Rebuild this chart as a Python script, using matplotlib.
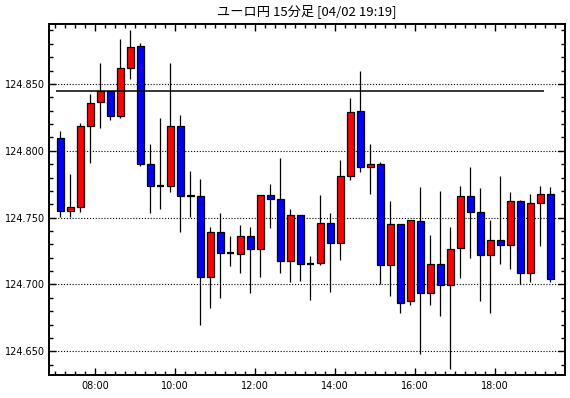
import matplotlib
matplotlib.use('Agg')
import matplotlib.pyplot as plt
import pandas as pd
from matplotlib.ticker import MultipleLocator, FixedLocator, FormatStrFormatter

# 15-minute candles, 07:00 .. 19:15
times = pd.date_range('2024-04-02 07:00', periods=50, freq='15min')

opens = [124.8095, 124.7548, 124.7578, 124.8185, 124.8365, 124.8445, 124.8260, 124.8620, 124.8785, 124.7900,
         124.7735, 124.7735, 124.8185, 124.7667, 124.7665, 124.7058, 124.7390, 124.7238, 124.7230, 124.7360,
         124.7268, 124.7668, 124.7638, 124.7173, 124.7518, 124.7150, 124.7158, 124.7458, 124.7308, 124.7810,
         124.8298, 124.7878, 124.7900, 124.7145, 124.7450, 124.6873, 124.7473, 124.6933, 124.7150, 124.6995,
         124.7270, 124.7660, 124.7540, 124.7218, 124.7330, 124.7293, 124.7623, 124.7083, 124.7608, 124.7675]
highs = [124.8150, 124.7828, 124.8208, 124.8428, 124.8658, 124.8445, 124.8833, 124.8900, 124.8803, 124.8053,
         124.8248, 124.8658, 124.8270, 124.7850, 124.7790, 124.7430, 124.7533, 124.7363, 124.7445, 124.7430,
         124.7668, 124.7753, 124.7945, 124.7565, 124.7518, 124.7213, 124.7670, 124.7533, 124.7933, 124.8395,
         124.8600, 124.8053, 124.7915, 124.7625, 124.7450, 124.7480, 124.7730, 124.7370, 124.7700, 124.7430,
         124.7738, 124.7880, 124.7723, 124.7483, 124.7813, 124.7693, 124.7630, 124.7678, 124.7738, 124.7730]
lows = [124.7503, 124.7503, 124.7545, 124.7908, 124.8168, 124.8228, 124.8243, 124.8538, 124.7883, 124.7538,
        124.7563, 124.7695, 124.7395, 124.7503, 124.6700, 124.6825, 124.6900, 124.7140, 124.7088, 124.6933,
        124.7058, 124.7425, 124.7088, 124.7020, 124.7028, 124.6885, 124.7145, 124.6940, 124.7185, 124.7780,
        124.7838, 124.7673, 124.7000, 124.6915, 124.6790, 124.6850, 124.6483, 124.6850, 124.6765, 124.6370,
        124.7050, 124.7200, 124.6878, 124.6790, 124.7155, 124.7118, 124.7000, 124.7020, 124.7290, 124.7020]
closes = [124.7548, 124.7578, 124.8185, 124.8358, 124.8445, 124.8260, 124.8620, 124.8778, 124.7900, 124.7733,
          124.7735, 124.8185, 124.7660, 124.7660, 124.7058, 124.7390, 124.7238, 124.7235, 124.7360, 124.7268,
          124.7668, 124.7638, 124.7173, 124.7518, 124.7150, 124.7150, 124.7458, 124.7308, 124.7810, 124.8290,
          124.7878, 124.7900, 124.7145, 124.7450, 124.6858, 124.7480, 124.6933, 124.7150, 124.6995, 124.7263,
          124.7660, 124.7540, 124.7218, 124.7330, 124.7293, 124.7623, 124.7083, 124.7608, 124.7675, 124.7038]

ref_level = 124.8448
title = 'ユーロ円 15分足 [04/02 19:19]'

step = 0.25  # hours per candle
x = times.hour + times.minute / 60 + step / 2

fig = plt.figure(figsize=(5.7, 3.98), dpi=100)
ax = fig.add_axes([49 / 570, 1 - 375 / 398, 516 / 570, 351 / 398])

ax.set_xlim(6.842, 19.742)
ax.set_ylim(124.6323, 124.8948)

# dotted grid
for lvl in [124.65, 124.70, 124.75, 124.80, 124.85]:
    ax.axhline(lvl, color='black', lw=0.8, ls=(0, (1, 1.6)), zorder=1)

# wicks
ax.vlines(x, lows, highs, color='black', lw=0.9, zorder=2)

# bodies
for xi, o, c in zip(x, opens, closes):
    col = '#ff0000' if c >= o else '#0000ff'
    lo, hi = min(o, c), max(o, c)
    if hi - lo < 0.0004:
        ax.hlines((o + c) / 2, xi - 0.08, xi + 0.08, color='black', lw=1.6, zorder=3)
    else:
        ax.bar(xi, hi - lo, bottom=lo, width=0.16, color=col, edgecolor='black',
               linewidth=0.9, zorder=3)

ax.hlines(ref_level, x[0] - step * 0.42, x[-1] - step * 0.6, color='black', lw=1.1, zorder=4)

# axes styling
for sp in ax.spines.values():
    sp.set_linewidth(1.4)
ax.xaxis.set_major_locator(FixedLocator(range(8, 20, 2)))
ax.set_xticklabels(['%02d:00' % h for h in range(8, 20, 2)])
ax.xaxis.set_minor_locator(MultipleLocator(step))
ax.yaxis.set_major_locator(MultipleLocator(0.05))
ax.yaxis.set_minor_locator(MultipleLocator(0.01))
ax.yaxis.set_major_formatter(FormatStrFormatter('%.3f'))
ax.tick_params(which='both', direction='in', top=True, right=True, width=1, labelsize=7)
ax.tick_params(which='major', length=5)
ax.tick_params(which='minor', length=3)
ax.tick_params(axis='y', pad=3)
ax.tick_params(axis='x', pad=4)

fig.text(0.5 * (49 + 565) / 570, 1 - 11 / 398, title, ha='center', va='center',
         fontsize=9.5, family=['Noto Sans CJK JP', 'DejaVu Sans'])

fig.savefig('out.png', dpi=100)
